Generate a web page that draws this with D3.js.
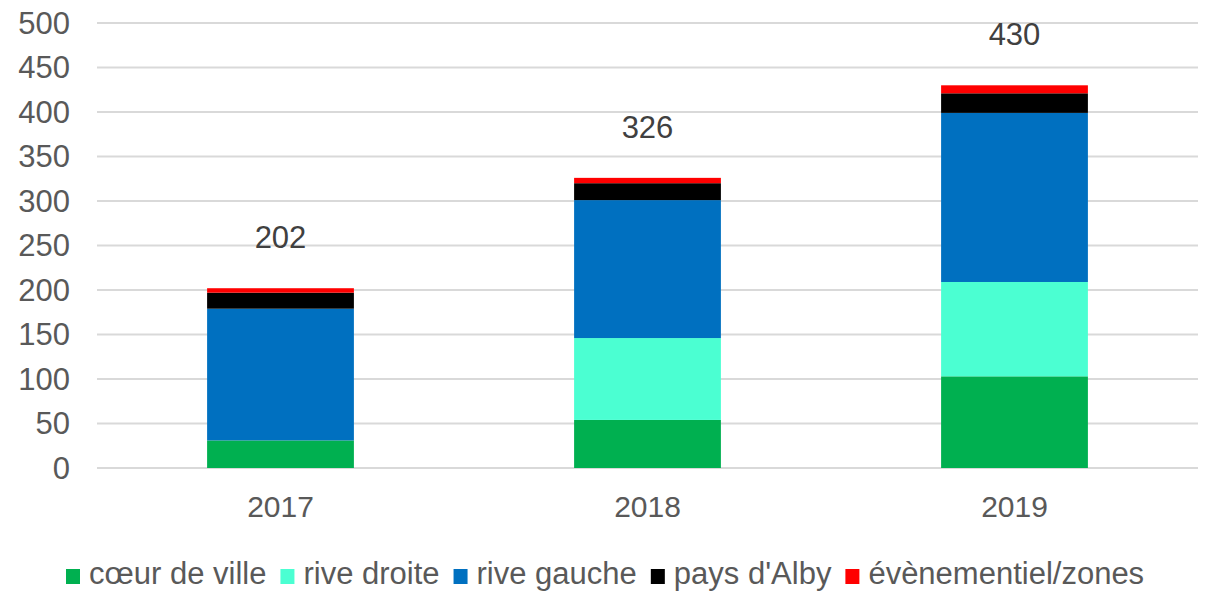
<!DOCTYPE html>
<html>
<head>
<meta charset="utf-8">
<script src="https://cdn.jsdelivr.net/npm/d3@7"></script>
<style>
  body { margin: 0; background: #fff; }
  text { font-family: "Liberation Sans", Arial, sans-serif; }
</style>
</head>
<body>
<script>
// data
var years = ["2017", "2018", "2019"];
var seriesNames = ["cœur de ville", "rive droite", "rive gauche", "pays d'Alby", "évènementiel/zones"];
var seriesColors = ["#00b050", "#4bffd2", "#0070c0", "#000000", "#ff0000"];
var coeurDeVille = [31, 54, 103];
var riveDroite = [0, 92, 106];
var riveGauche = [148, 155, 190];
var paysAlby = [18, 19, 22];
var evenementiel = [5, 6, 9];
var totals = [202, 326, 430];
var yTicks = [0, 50, 100, 150, 200, 250, 300, 350, 400, 450, 500];

var width = 1206, height = 592;
var margin = {top: 23, right: 8, bottom: 124, left: 97};

var svg = d3.select("body").append("svg")
    .attr("width", width)
    .attr("height", height);

var x = d3.scaleBand()
    .domain(years)
    .range([margin.left, width - margin.right])
    .paddingInner(0.6)
    .paddingOuter(0.3);

var y = d3.scaleLinear()
    .domain([0, 500])
    .range([height - margin.bottom, margin.top]);

// gridlines
svg.append("g")
  .selectAll("line")
  .data(yTicks)
  .enter().append("line")
    .attr("x1", margin.left)
    .attr("x2", width - margin.right)
    .attr("y1", function(d) { return y(d); })
    .attr("y2", function(d) { return y(d); })
    .style("stroke", "#d9d9d9")
    .style("stroke-width", 2);

// y tick labels
svg.append("g")
  .selectAll("text")
  .data(yTicks)
  .enter().append("text")
    .attr("x", 70)
    .attr("y", function(d) { return y(d); })
    .attr("dy", "0.35em")
    .attr("text-anchor", "end")
    .style("font-size", "31px")
    .style("fill", "#595959")
    .text(function(d) { return d; });

// stack the series
var table = years.map(function(yr, i) {
  return {year: yr, s0: coeurDeVille[i], s1: riveDroite[i], s2: riveGauche[i], s3: paysAlby[i], s4: evenementiel[i]};
});
var stack = d3.stack().keys(["s0", "s1", "s2", "s3", "s4"]);
var layers = stack(table);

svg.append("g")
  .selectAll("g")
  .data(layers)
  .enter().append("g")
    .style("fill", function(d, i) { return seriesColors[i]; })
  .selectAll("rect")
  .data(function(d) { return d; })
  .enter().append("rect")
    .attr("x", function(d) { return x(d.data.year); })
    .attr("width", x.bandwidth())
    .attr("y", function(d) { return y(d[1]); })
    .attr("height", function(d) { return y(d[0]) - y(d[1]); });

// totals above bars
svg.append("g")
  .selectAll("text")
  .data(totals)
  .enter().append("text")
    .attr("x", function(d, i) { return x(years[i]) + x.bandwidth() / 2; })
    .attr("y", function(d) { return y(d) - 51; })
    .attr("dy", "0.35em")
    .attr("text-anchor", "middle")
    .style("font-size", "31px")
    .style("fill", "#404040")
    .text(function(d) { return d; });

// x labels
svg.append("g")
  .selectAll("text")
  .data(years)
  .enter().append("text")
    .attr("x", function(d) { return x(d) + x.bandwidth() / 2; })
    .attr("y", 506)
    .attr("dy", "0.35em")
    .attr("text-anchor", "middle")
    .style("font-size", "30px")
    .style("fill", "#595959")
    .text(function(d) { return d; });

// legend
var legend = svg.append("g");
var lx = 66, ly = 574;
seriesNames.forEach(function(name, i) {
  legend.append("rect")
      .attr("x", lx)
      .attr("y", ly - 5)
      .attr("width", 14)
      .attr("height", 15)
      .style("fill", seriesColors[i]);
  var t = legend.append("text")
      .attr("x", lx + 23)
      .attr("y", ly)
      .attr("dy", "0.33em")
      .style("font-size", "31px")
      .style("fill", "#595959")
      .text(name);
  lx += 23 + t.node().getComputedTextLength() + 14;
});
</script>
</body>
</html>
